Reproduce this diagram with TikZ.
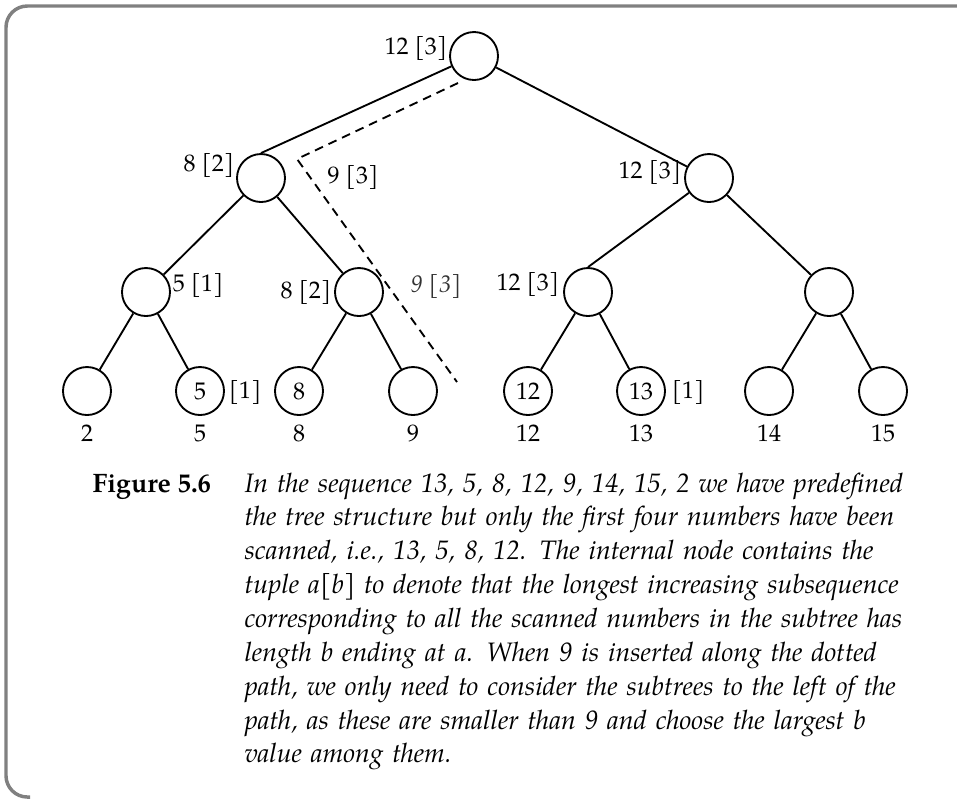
\documentclass[tikz,border=0pt]{standalone}
\usepackage{fontspec}
\setmainfont{TeX Gyre Pagella}

\begin{document}
\begin{tikzpicture}[x=0.375pt,y=-0.375pt]
\tikzstyle{vtx}=[circle,draw,line width=0.7pt,minimum size=18pt,inner sep=0pt,font=\fontsize{9}{10}\selectfont]
\tikzstyle{tag}=[inner sep=0.5pt,font=\fontsize{9}{10}\selectfont]
\tikzstyle{arc}=[line width=0.7pt]
\useasboundingbox (0,0) rectangle (957,799);
\draw[gray,line width=1.3pt,rounded corners=8] (957,6) -- (6,6) -- (6,797) -- (30,797);

% internal nodes
\node[vtx] (r) at (474,56) {};
\node[vtx] (l) at (261,178) {};
\node[vtx] (rr) at (709,178) {};
\node[vtx] (ll) at (146,292) {};
\node[vtx] (lr) at (359,292) {};
\node[vtx] (rl) at (588,292) {};
\node[vtx] (rrr) at (829,292) {};
% leaves
\node[vtx] (x1) at (87,391) {};
\node[vtx] (x2) at (200,391) {5};
\node[vtx] (x3) at (299,391) {8};
\node[vtx] (x4) at (413,391) {};
\node[vtx] (x5) at (528,391) {12};
\node[vtx] (x6) at (641,391) {13};
\node[vtx] (x7) at (769,391) {};
\node[vtx] (x8) at (883,391) {};

\draw[arc] (r) -- (l.north);
\draw[arc] (r) -- (rr);
\draw[arc] (l) -- (ll);
\draw[arc] (l) -- (lr);
\draw[arc] (rr) -- (rl.north);
\draw[arc] (rr) -- (rrr);
\draw[arc] (ll) -- (x1);
\draw[arc] (ll) -- (x2);
\draw[arc] (lr) -- (x3);
\draw[arc] (lr) -- (x4);
\draw[arc] (rl) -- (x5);
\draw[arc] (rl) -- (x6);
\draw[arc] (rrr) -- (x7);
\draw[arc] (rrr) -- (x8);

% values a [b]
\node[tag,anchor=east] (tr) at (449,48) {12 [3]};
\node[tag,anchor=east] (tl) at (236,165) {8 [2]};
\node[tag] (tp) at (353,177) {9 [3]};
\node[tag,anchor=east] (trr) at (683,172) {12 [3]};
\node[tag,anchor=west] (tll) at (171,285) {5 [1]};
\node[tag,anchor=east] (tlr) at (333,292) {8 [2]};
\node[tag,font=\fontsize{9}{10}\selectfont\itshape,black!80] (tq) at (436,286) {9 [3]};
\node[tag,anchor=east] (trl) at (561,284) {12 [3]};
\node[tag,anchor=west] (tx2) at (227,392) {[1]};
\node[tag,anchor=west] (tx6) at (670,392) {[1]};

\foreach \i/\v in {1/2,2/5,3/8,4/9,5/12,6/13,7/14,8/15}
  \node[tag] (k\i) at (x\i |- 0,433) {\v};

% insertion path of 9
\coordinate (p0) at (458,83);
\coordinate (p1) at (297,159);
\coordinate (p2) at (457,382);
\draw[line width=0.7pt,dash pattern=on 3.3pt off 2.3pt] (p0) -- (p1) -- (p2);

% caption
\node[anchor=base west,inner sep=0pt,font=\fontsize{10}{12.7}\selectfont\bfseries] (fig) at (92,492) {Figure 5.6};
\node[anchor=base west,inner sep=0pt,text width=238.5pt,font=\fontsize{10}{12.7}\selectfont\itshape] (cap) at (244,492) {%
\makebox[\linewidth][s]{In the sequence 13, 5, 8, 12, 9, 14, 15, 2 we have predefined}\\
\makebox[\linewidth][s]{the tree structure but only the first four numbers have been}\\
\makebox[\linewidth][s]{scanned, i.e., 13, 5, 8, 12. The internal node contains the}\\
\makebox[\linewidth][s]{tuple a\textup{[}b\textup{]} to denote that the longest increasing subsequence}\\
\makebox[\linewidth][s]{corresponding to all the scanned numbers in the subtree has}\\
\makebox[\linewidth][s]{length b ending at a. When 9 is inserted along the dotted}\\
\makebox[\linewidth][s]{path, we only need to consider the subtrees to the left of the}\\
\makebox[\linewidth][s]{path, as these are smaller than 9 and choose the largest b}\\
value among them.};
\end{tikzpicture}
\end{document}
